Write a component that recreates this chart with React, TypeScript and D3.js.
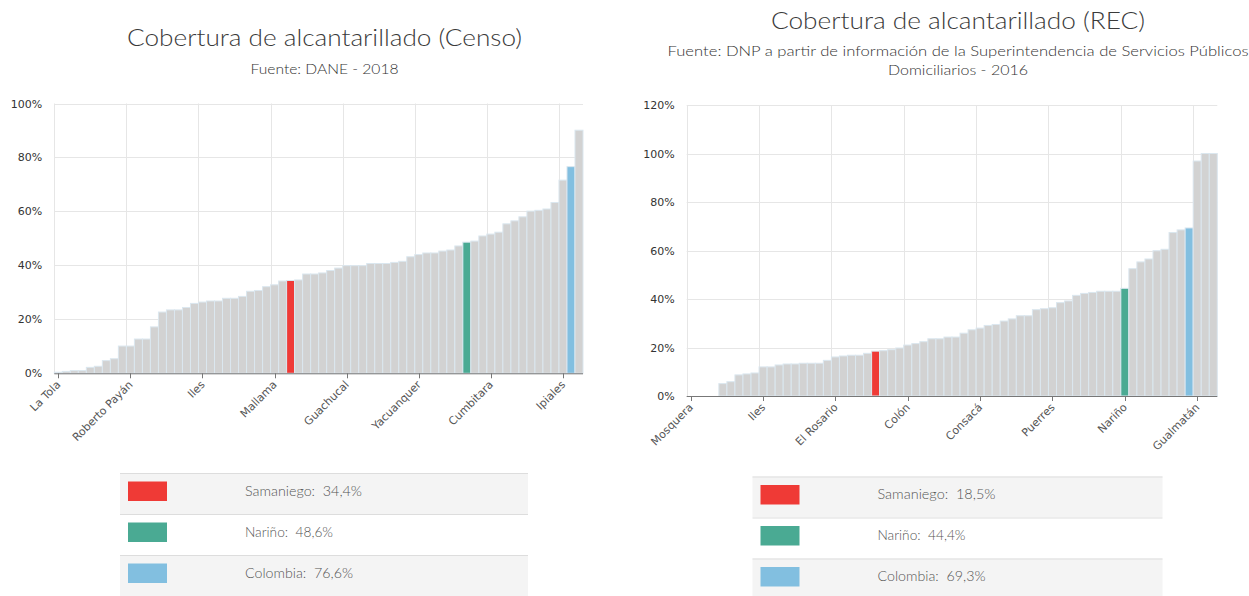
import React from "react";
import * as d3 from "d3";

// ---------- Chart 1: Censo (DANE 2018) ----------
const censoCategories: string[] = [
  "La Tola", "Mosquera", "Olaya Herrera", "El Charco", "Santa Bárbara", "Magüí", "Francisco Pizarro", "Barbacoas", "Policarpa",
  "Roberto Payán", "Leiva", "El Rosario", "Los Andes", "La Llanada", "Ricaurte", "Tumaco", "Santacruz", "Cuaspud",
  "Iles", "Aldana", "Potosí", "Córdoba", "Funes", "Colón", "Consacá", "Imués", "Linares",
  "Mallama", "Ospina", "Samaniego", "Providencia", "Sapuyes", "Guaitarilla", "Contadero", "Ancuyá", "Arboleda",
  "Guachucal", "Albán", "Belén", "Buesaco", "Chachagüí", "El Peñol", "El Tablón de Gómez", "El Tambo", "La Cruz",
  "Yacuanquer", "La Florida", "La Unión", "Nariño (municipio)", "Cumbal", "Puerres", "Nariño", "Gualmatán", "Pupiales",
  "Cumbitara", "San Bernardo", "San Lorenzo", "San Pablo", "San Pedro de Cartago", "Sandoná", "Taminango", "Tangua", "Túquerres",
  "Ipiales", "Colombia", "Pasto",
];
const censoValues: number[] = [
  0.4, 0.7, 1.0, 1.0, 2.2, 2.6, 4.7, 5.4, 10.1,
  10.1, 12.7, 12.7, 17.2, 22.7, 23.5, 23.5, 24.4, 25.9,
  26.4, 26.8, 26.8, 27.8, 27.8, 28.5, 30.4, 30.7, 32.1,
  32.8, 34.2, 34.4, 34.6, 36.8, 36.8, 37.2, 38.1, 39.0,
  39.9, 39.9, 39.9, 40.7, 40.7, 40.7, 41.1, 41.5, 43.2,
  44.0, 44.6, 44.6, 45.3, 45.7, 47.2, 48.6, 49.0, 50.9,
  51.6, 52.3, 55.4, 56.5, 58.0, 60.1, 60.4, 60.9, 63.3,
  71.6, 76.6, 90.1,
];
const censoYTicks: number[] = [0, 20, 40, 60, 80, 100];
const censoLegendNames: string[] = ["Samaniego", "Nariño", "Colombia"];
const censoLegendValues: number[] = [34.4, 48.6, 76.6];

// ---------- Chart 2: REC (DNP / Superservicios 2016) ----------
const recCategories: string[] = [
  "Mosquera", "La Tola", "Olaya Herrera", "El Charco", "Santa Bárbara", "Magüí", "Francisco Pizarro", "Roberto Payán", "Barbacoas",
  "Iles", "Policarpa", "Leiva", "Los Andes", "La Llanada", "Ricaurte", "Tumaco", "Santacruz", "Cuaspud",
  "El Rosario", "Aldana", "Potosí", "Córdoba", "Funes", "Samaniego", "Cumbitara", "Imués", "Linares",
  "Colón", "Mallama", "Ospina", "Providencia", "Sapuyes", "Guaitarilla", "Contadero", "Ancuyá", "Arboleda",
  "Consacá", "Albán", "Belén", "Buesaco", "Chachagüí", "El Peñol", "El Tablón de Gómez", "El Tambo", "La Cruz",
  "Puerres", "La Florida", "La Unión", "Nariño (municipio)", "Cumbal", "Guachucal", "Yacuanquer", "Pupiales", "San Bernardo",
  "Nariño", "San Lorenzo", "San Pablo", "San Pedro de Cartago", "Sandoná", "Taminango", "Tangua", "Túquerres", "Colombia",
  "Gualmatán", "Ipiales", "Pasto",
];
const recValues: number[] = [
  0, 0, 0, 0, 5.1, 5.9, 8.7, 9.1, 9.5,
  12.0, 12.0, 12.8, 13.2, 13.2, 13.5, 13.5, 13.5, 14.7,
  16.1, 16.5, 16.8, 16.8, 17.6, 18.5, 18.7, 19.1, 19.8,
  21.0, 21.6, 22.4, 23.6, 23.6, 24.3, 24.3, 25.9, 27.3,
  28.0, 29.1, 29.5, 30.9, 31.8, 33.1, 33.1, 35.6, 36.0,
  36.4, 38.5, 39.2, 41.5, 42.3, 42.7, 43.2, 43.2, 43.2,
  44.4, 52.5, 55.3, 56.5, 59.9, 60.5, 67.4, 68.5, 69.3,
  96.9, 100, 100,
];
const recYTicks: number[] = [0, 20, 40, 60, 80, 100, 120];
const recLegendNames: string[] = ["Samaniego", "Nariño", "Colombia"];
const recLegendValues: number[] = [18.5, 44.4, 69.3];

const legendColors: string[] = ["#ef3a36", "#4aaa93", "#82bfe0"];
const BAR_GREY = "#d2d2d2";
const TICK_INTERVAL = 9;
const TITLE_FONT = "Lato, 'Open Sans', sans-serif";

const fmtPct = (v: number) => d3.format(".1f")(v).replace(".", ",") + "%";

type ChartProps = {
  categories: string[];
  values: number[];
  yTicks: number[];
  legendNames: string[];
  legendValues: number[];
  x0: number; x1: number; yTop: number; yBottom: number;
  title: string; titleX: number; titleY: number; titleLen: number;
  subtitles: { text: string; y: number; len: number }[];
  legendX: number; legendW: number; legendY: number; legendLens: number[];
};

function BarChart(p: ChartProps) {
  const idx = p.categories.map((_, i) => String(i));
  const x = d3.scaleBand<string>().domain(idx).range([p.x0, p.x1]).padding(0);
  const y = d3.scaleLinear().domain([0, d3.max(p.yTicks) as number]).range([p.yBottom, p.yTop]);
  const bw = x.bandwidth();
  const tickIdx = idx.filter((_, i) => i % TICK_INTERVAL === 0);
  const colorFor = (name: string) => {
    const k = p.legendNames.indexOf(name);
    return k >= 0 ? legendColors[k] : BAR_GREY;
  };
  const rowH = 41;
  return (
    <g>
      <text x={p.titleX} y={p.titleY} textAnchor="middle" fontFamily={TITLE_FONT} fontWeight={300} fontSize={24} fill="#3a3a3a"
        textLength={p.titleLen} lengthAdjust="spacingAndGlyphs">{p.title}</text>
      {p.subtitles.map((s, i) => (
        <text key={i} x={p.titleX} y={s.y} textAnchor="middle" fontFamily={TITLE_FONT} fontWeight={300} fontSize={14} fill="#333"
          textLength={s.len} lengthAdjust="spacingAndGlyphs">{s.text}</text>
      ))}
      {/* horizontal grid */}
      {p.yTicks.map((t) => (
        <line key={"h" + t} x1={p.x0} x2={p.x1} y1={Math.round(y(t)) + 0.5} y2={Math.round(y(t)) + 0.5} stroke="#e6e6e6" />
      ))}
      {/* vertical grid at category boundaries */}
      {tickIdx.map((c) => (
        <line key={"v" + c} x1={Math.round(x(c) as number) + 0.5} x2={Math.round(x(c) as number) + 0.5} y1={p.yTop} y2={p.yBottom} stroke="#e6e6e6" />
      ))}
      {/* y labels */}
      {p.yTicks.map((t) => (
        <text key={"yl" + t} x={p.x0 - 12} y={y(t) + 4} textAnchor="end" fontFamily="'DejaVu Sans', Verdana, sans-serif" fontSize={11} fill="#333">{t}%</text>
      ))}
      {/* bars */}
      {p.values.map((v, i) => (
        <rect key={"b" + i} x={x(String(i)) as number} y={y(v)} width={bw} height={p.yBottom - y(v)}
          fill={colorFor(p.categories[i])} stroke="#dbe7ef" strokeWidth={1} />
      ))}
      {/* x axis */}
      <line x1={p.x0} x2={p.x1} y1={p.yBottom + 0.5} y2={p.yBottom + 0.5} stroke="#777" />
      {tickIdx.map((c) => {
        const cx = (x(c) as number) + bw / 2;
        return (
          <g key={"t" + c}>
            <line x1={Math.round(cx) + 0.5} x2={Math.round(cx) + 0.5} y1={p.yBottom} y2={p.yBottom + 5} stroke="#777" />
            <text transform={`translate(${cx + 3},${p.yBottom + 12}) rotate(-45)`} textAnchor="end"
              fontFamily="'DejaVu Sans', Verdana, sans-serif" fontSize={11} fill="#555">{p.categories[+c]}</text>
          </g>
        );
      })}
      {/* legend table */}
      {p.legendNames.map((n, i) => {
        const ry = p.legendY + i * rowH;
        return (
          <g key={"lg" + i}>
            <rect x={p.legendX} y={ry} width={p.legendW} height={rowH} fill={i % 2 === 0 ? "#f4f4f4" : "#ffffff"} />
            <line x1={p.legendX} x2={p.legendX + p.legendW} y1={ry + 0.5} y2={ry + 0.5} stroke="#dddddd" />
            <rect x={p.legendX + 8} y={ry + 8.5} width={39} height={19.5} fill={legendColors[i]} />
            <text x={p.legendX + 125} y={ry + 22.5} fontFamily={TITLE_FONT} fontWeight={300} fontSize={14} fill="#555"
              textLength={p.legendLens[i]} lengthAdjust="spacingAndGlyphs"
              style={{ whiteSpace: "pre" }}>{`${n}:  ${fmtPct(p.legendValues[i])}`}</text>
          </g>
        );
      })}
    </g>
  );
}

export default function App() {
  return (
    <svg width={1249} height={596} style={{ position: "absolute", left: 0, top: 0, background: "#fff" }}>
      <BarChart categories={censoCategories} values={censoValues} yTicks={censoYTicks}
        legendNames={censoLegendNames} legendValues={censoLegendValues}
        x0={54.3} x1={583} yTop={103.5} yBottom={373.3}
        title="Cobertura de alcantarillado (Censo)" titleX={324.5} titleY={46} titleLen={395}
        subtitles={[{ text: "Fuente: DANE - 2018", y: 74, len: 148 }]}
        legendX={120} legendW={408} legendY={473} legendLens={[117, 88, 108]} />
      <BarChart categories={recCategories} values={recValues} yTicks={recYTicks}
        legendNames={recLegendNames} legendValues={recLegendValues}
        x0={686.7} x1={1217.3} yTop={105} yBottom={396}
        title="Cobertura de alcantarillado (REC)" titleX={958} titleY={29} titleLen={374}
        subtitles={[
          { text: "Fuente: DNP a partir de información de la Superintendencia de Servicios Públicos", y: 56, len: 581 },
          { text: "Domiciliarios - 2016", y: 75, len: 140 },
        ]}
        legendX={752.5} legendW={410} legendY={476.5} legendLens={[118, 88, 108]} />
    </svg>
  );
}
